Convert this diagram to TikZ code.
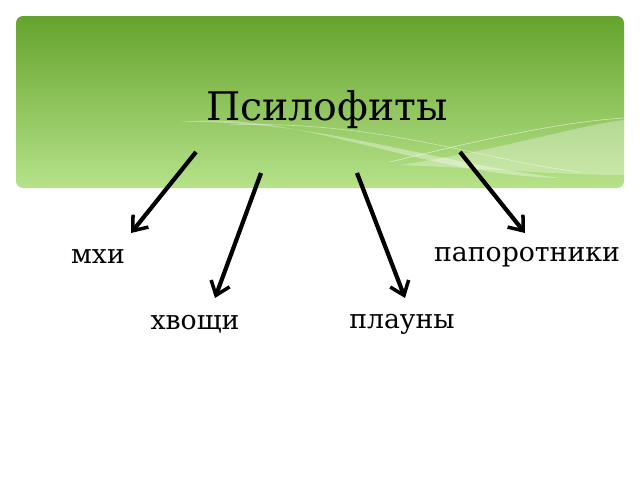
\documentclass[tikz,border=0pt]{standalone}
\usepackage{fontspec}
\setmainfont{DejaVu Serif}
\usetikzlibrary{arrows.meta}
\begin{document}
\begin{tikzpicture}[x=0.025cm,y=-0.025cm,
  arr/.style={line width=3pt,-{Straight Barb[length=9pt,width=14pt,line width=2.5pt]}},
  lbl/.style={font=\fontsize{19}{22}\selectfont}]
\useasboundingbox (0,0) rectangle (640,480);
\fill[white] (0,0) rectangle (640,480);
\shade[top color={rgb,255:red,100;green,163;blue,45}, bottom color={rgb,255:red,182;green,226;blue,138}, rounded corners=5pt] (16,16) rectangle (624,188);
\begin{scope}
\clip[rounded corners=5pt] (16,16) rectangle (624,188);
\fill[white,opacity=0.35] (180,122) .. controls (300,110) and (420,175) .. (560,178) .. controls (420,160) and (320,120) .. (180,122);
\fill[white,opacity=0.3] (400,165) .. controls (500,150) and (580,125) .. (624,120) -- (624,175) .. controls (560,175) and (480,168) .. (400,165);
\draw[white,opacity=0.6] (390,162) .. controls (480,140) and (560,122) .. (624,118);
\draw[white,opacity=0.5] (230,125) .. controls (380,120) and (480,160) .. (580,172);
\end{scope}
\node (title) at (327,110) {\fontsize{28}{32}\selectfont Псилофиты};
\node[lbl] (mhi) at (98,257) {мхи};
\node[lbl] (hv) at (195,324) {хвощи};
\node[lbl] (pl) at (402,324) {плауны};
\node[lbl] (pap) at (527,257) {папоротники};
\coordinate (s1) at (196,152); \coordinate (e1) at (131,233);
\coordinate (s2) at (261,173); \coordinate (e2) at (215,298);
\coordinate (s3) at (357,173); \coordinate (e3) at (405,298);
\coordinate (s4) at (460,152); \coordinate (e4) at (525,233);
\draw[arr] (s1) -- (e1);
\draw[arr] (s2) -- (e2);
\draw[arr] (s3) -- (e3);
\draw[arr] (s4) -- (e4);
\end{tikzpicture}
\end{document}
